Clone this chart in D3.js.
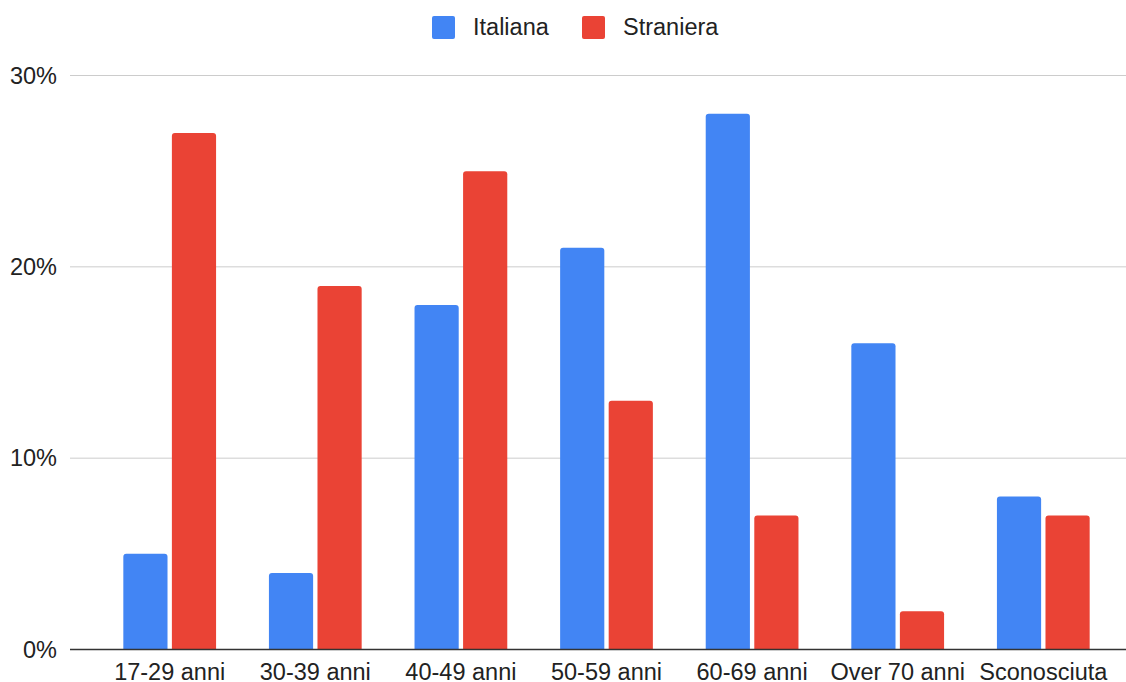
<!DOCTYPE html>
<html>
<head>
<meta charset="utf-8">
<script src="https://cdn.jsdelivr.net/npm/d3@7"></script>
<style>
  body { margin: 0; background: #fff; }
  text { font-family: "Liberation Sans", Arial, sans-serif; }
</style>
</head>
<body>
<svg id="chart" width="1126" height="682"></svg>
<script>
// age groups and the share for each nationality (%)
const categories = ["17-29 anni", "30-39 anni", "40-49 anni", "50-59 anni", "60-69 anni", "Over 70 anni", "Sconosciuta"];
const seriesNames = ["Italiana", "Straniera"];
const italiana = [5, 4, 18, 21, 28, 16, 8];
const straniera = [27, 19, 25, 13, 7, 2, 7];
const yTicks = [0, 10, 20, 30];

const colors = { "Italiana": "#4285f4", "Straniera": "#ea4335" };

const svg = d3.select("#chart");

const rows = categories.map((c, i) => ({ cat: c, Italiana: italiana[i], Straniera: straniera[i] }));

const x = d3.scaleBand()
    .domain(categories)
    .range([96.9, 1116.1])
    .paddingInner(0.363)
    .paddingOuter(0.1815);

const xInner = d3.scaleBand()
    .domain(seriesNames)
    .range([0, x.bandwidth()])
    .paddingInner(0.09);

const y = d3.scaleLinear()
    .domain([0, 30])
    .range([649.5, 75.5]);

// gridlines
svg.append("g").selectAll("line")
    .data(yTicks.filter(d => d > 0))
    .join("line")
    .attr("x1", 70)
    .attr("x2", 1126)
    .attr("y1", d => y(d))
    .attr("y2", d => y(d))
    .style("stroke", "#cccccc")
    .style("stroke-width", 1);

// y labels
svg.append("g").selectAll("text")
    .data(yTicks)
    .join("text")
    .attr("x", 57)
    .attr("y", d => y(d) + 8)
    .attr("text-anchor", "end")
    .style("font-size", "23.5px")
    .style("fill", "#222")
    .text(d => d + "%");

// bars
const group = svg.append("g").selectAll("g")
    .data(rows)
    .join("g")
    .attr("transform", d => `translate(${x(d.cat)},0)`);

group.selectAll("path")
    .data(d => seriesNames.map(s => ({ key: s, value: d[s] })))
    .join("path")
    .attr("d", d => {
        const x0 = xInner(d.key), w = xInner.bandwidth();
        const top = y(d.value), bottom = y(0), r = 3;
        return `M${x0},${bottom}V${top + r}Q${x0},${top} ${x0 + r},${top}H${x0 + w - r}Q${x0 + w},${top} ${x0 + w},${top + r}V${bottom}Z`;
    })
    .style("fill", d => colors[d.key]);

// baseline
svg.append("line")
    .attr("x1", 70)
    .attr("x2", 1126)
    .attr("y1", y(0))
    .attr("y2", y(0))
    .style("stroke", "#333")
    .style("stroke-width", 1.5);

// x labels
svg.append("g").selectAll("text")
    .data(categories)
    .join("text")
    .attr("x", d => x(d) + x.bandwidth() / 2)
    .attr("y", 680)
    .attr("text-anchor", "middle")
    .style("font-size", "23.5px")
    .style("fill", "#222")
    .text(d => d);

// legend
const legendX = [432, 582];
const legend = svg.append("g").selectAll("g")
    .data(seriesNames)
    .join("g")
    .attr("transform", (d, i) => `translate(${legendX[i]},16)`);

legend.append("rect")
    .attr("width", 23)
    .attr("height", 23)
    .attr("rx", 2)
    .style("fill", d => colors[d]);

legend.append("text")
    .attr("x", 41)
    .attr("y", 18.5)
    .style("font-size", "23.5px")
    .style("fill", "#222")
    .text(d => d);
</script>
</body>
</html>
